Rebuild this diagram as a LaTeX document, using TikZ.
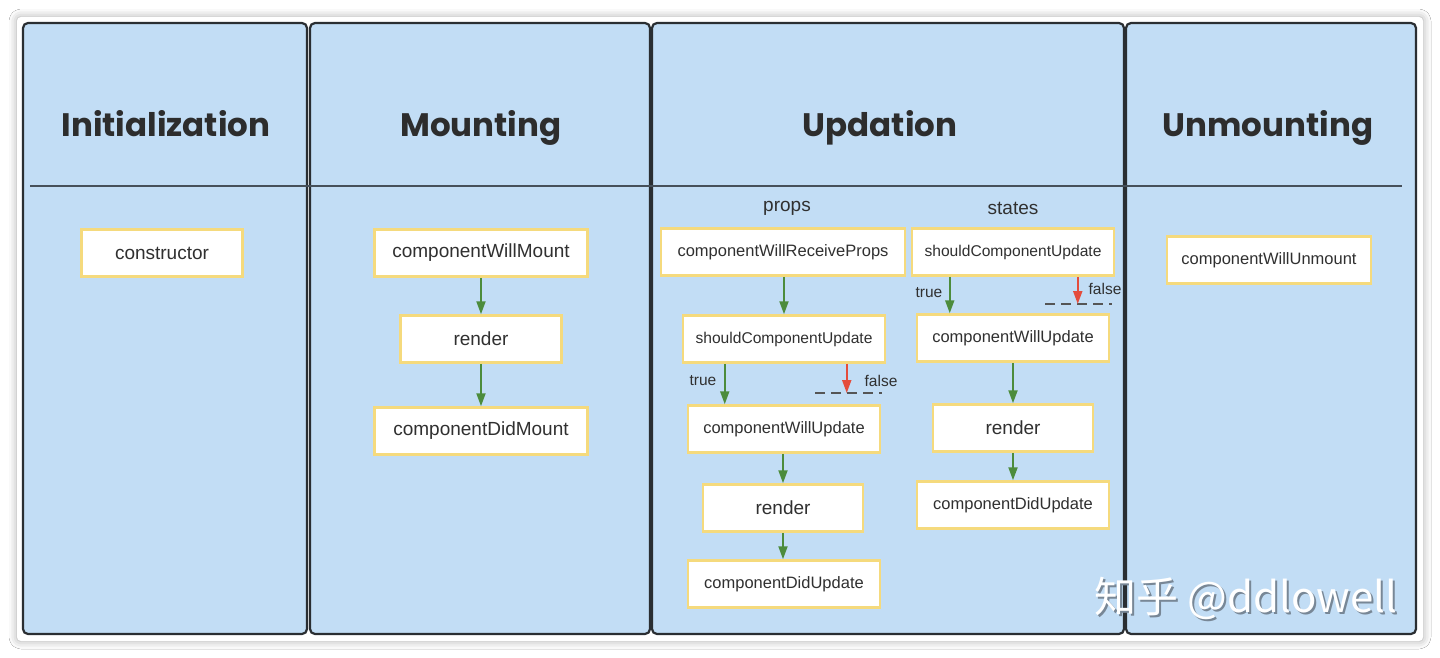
\documentclass[tikz,border=0pt]{standalone}
\usepackage{fontspec}
\setmainfont{Liberation Sans}
\newfontfamily\headfont{Poppins}
\newfontfamily\cjkfont{Noto Sans CJK SC}
\usetikzlibrary{arrows.meta,shadows.blur}
\definecolor{panelfill}{RGB}{194,221,245}
\definecolor{panelline}{RGB}{42,46,50}
\definecolor{hline}{RGB}{70,80,90}
\definecolor{boxline}{RGB}{245,218,125}
\definecolor{txt}{RGB}{48,48,48}
\definecolor{headtxt}{RGB}{45,45,45}
\definecolor{arrgreen}{RGB}{76,140,60}
\definecolor{arrred}{RGB}{228,76,60}
\definecolor{dashgrey}{RGB}{85,85,85}
\definecolor{wmshadow}{RGB}{120,135,150}
\begin{document}
\begin{tikzpicture}[x=1pt,y=-1pt,
  panel/.style={draw=panelline, line width=2.2pt, fill=panelfill, rounded corners=5pt},
  box/.style={draw=boxline, line width=2.5pt, fill=white, inner sep=0pt, minimum height=47pt, text=txt, font=\fontsize{19}{22}\selectfont},
  sbox/.style={box, font=\fontsize{16.5}{20}\selectfont},
  head/.style={text=headtxt, anchor=base, font=\headfont\bfseries\fontsize{32.5}{40}\selectfont},
  garrow/.style={draw=arrgreen, line width=2pt, -{Triangle[width=9pt,length=13pt]}},
  rarrow/.style={draw=arrred, line width=2pt, -{Triangle[width=9pt,length=13pt]}},
  dashline/.style={draw=dashgrey, line width=2pt, dash pattern=on 10pt off 6pt},
  lbl/.style={text=txt, font=\fontsize{15.5}{18}\selectfont, inner sep=0pt},
  sublbl/.style={text=txt, font=\fontsize{19}{22}\selectfont, inner sep=0pt},
  wm/.style={font=\cjkfont\fontsize{42}{48}\selectfont, inner sep=0pt}
]
\useasboundingbox (0,0) rectangle (1440,658);
\fill[white] (0,0) rectangle (1440,658);
\fill[white, rounded corners=4pt, blur shadow={shadow xshift=0pt, shadow yshift=0pt, shadow blur radius=8pt, shadow opacity=35}] (17,17) rectangle (1423,641);

% panels
\draw[panel] (23,23) rectangle (307,634);
\draw[panel] (310,23) rectangle (650,634);
\draw[panel] (652,23) rectangle (1124,634);
\draw[panel] (1126,23) rectangle (1416,634);
\draw[draw=hline, line width=1.5pt] (30,186) -- (1402,186);

% headers
\node[head] (hinit) at (166,136) {Initialization};
\node[head] (hmount) at (481,136) {Mounting};
\node[head] (hupd) at (880,136) {Updation};
\node[head] (hunm) at (1268,136) {Unmounting};

% initialization
\node[box, minimum width=161pt] (ctor) at (162,253) {constructor};

% mounting
\node[box, minimum width=213pt] (cwm) at (481,253) {componentWillMount};
\node[box, minimum width=161pt] (rend1) at (481,339) {render};
\node[box, minimum width=213pt] (cdm) at (481,431) {componentDidMount};
\draw[garrow] (cwm.south) -- (rend1.north);
\draw[garrow] (rend1.south) -- (cdm.north);

% updation - props
\node[sublbl] (props) at (787,208) {props};
\node[sbox, minimum width=244pt] (cwrp) at (783,252) {componentWillReceiveProps};
\node[sbox, minimum width=202pt, font=\fontsize{15.6}{19}\selectfont] (scu1) at (784,339) {shouldComponentUpdate};
\node[sbox, minimum width=192pt] (cwu1) at (784,429) {componentWillUpdate};
\node[box, minimum width=160pt] (rend2) at (783,508) {render};
\node[sbox, minimum width=192pt] (cdu1) at (784,584) {componentDidUpdate};
\draw[garrow] (cwrp.south -| scu1.north) -- (scu1.north);
\coordinate (t1) at ([xshift=43pt]scu1.south west);
\coordinate (f1) at ([xshift=165pt]scu1.south west);
\coordinate (d1a) at (815,393);
\coordinate (d1b) at (882,393);
\draw[garrow] (t1) -- (t1 |- cwu1.north);
\draw[dashline] (d1a) -- (d1b);
\draw[rarrow] (f1) -- (f1 |- d1a);
\node[lbl] (true1) at (703,381) {true};
\node[lbl] (false1) at (881,381) {false};
\draw[garrow] (cwu1.south -| rend2.north) -- (rend2.north);
\draw[garrow] (rend2.south) -- (rend2.south |- cdu1.north);

% updation - states
\node[sublbl] (states) at (1013,208) {states};
\node[sbox, minimum width=202pt, font=\fontsize{15.6}{19}\selectfont] (scu2) at (1013,252) {shouldComponentUpdate};
\node[sbox, minimum width=192pt] (cwu2) at (1013,338) {componentWillUpdate};
\node[box, minimum width=160pt] (rend3) at (1013,428) {render};
\node[sbox, minimum width=192pt] (cdu2) at (1013,505) {componentDidUpdate};
\coordinate (t2) at ([xshift=39pt]scu2.south west);
\coordinate (f2) at ([xshift=167pt]scu2.south west);
\coordinate (d2a) at (1045,304);
\coordinate (d2b) at (1112,304);
\draw[garrow] (t2) -- (t2 |- cwu2.north);
\draw[dashline] (d2a) -- (d2b);
\draw[rarrow] (f2) -- (f2 |- d2a);
\node[lbl] (true2) at (929,293) {true};
\node[lbl] (false2) at (1105,289) {false};
\draw[garrow] (cwu2.south) -- (rend3.north);
\draw[garrow] (rend3.south) -- (cdu2.north);

% unmounting
\node[sbox, minimum width=204pt] (cwun) at (1269,260) {componentWillUnmount};

% watermark
\node[wm, text=wmshadow] (wmsh) at (1248,600) {知乎 @ddlowell};
\node[wm, text=white] (wmtx) at (1246,598) {知乎 @ddlowell};
\end{tikzpicture}
\end{document}
